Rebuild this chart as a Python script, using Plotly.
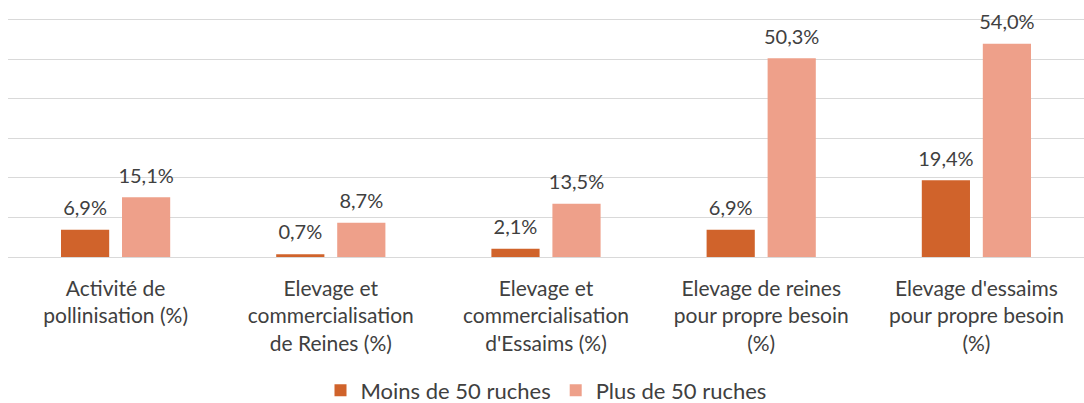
import plotly.graph_objects as go

categories = [
    "Activité de<br>pollinisation (%)",
    "Elevage et<br>commercialisation<br>de Reines (%)",
    "Elevage et<br>commercialisation<br>d'Essaims (%)",
    "Elevage de reines<br>pour propre besoin<br>(%)",
    "Elevage d'essaims<br>pour propre besoin<br>(%)",
]
moins_50 = [6.9, 0.7, 2.1, 6.9, 19.4]
plus_50 = [15.1, 8.7, 13.5, 50.3, 54.0]

font_family = "Lato, 'Open Sans', sans-serif"
text_color = "#404040"
series = [
    ("Moins de 50 ruches", moins_50, "#D0632B"),
    ("Plus de 50 ruches", plus_50, "#EEA08A"),
]

fig = go.Figure()
for name, values, color in series:
    fig.add_trace(go.Bar(
        name=name, x=categories, y=values, offsetgroup=name,
        marker=dict(color=color, line=dict(width=0)),
    ))
# value labels: invisible markers push the text a little above each bar
for name, values, color in series:
    fig.add_trace(go.Scatter(
        x=categories, y=values, offsetgroup=name,
        mode="markers+text", text=[f"{v:.1f}%".replace(".", ",") for v in values],
        textposition="top center",
        textfont=dict(size=20, color=text_color, family=font_family),
        marker=dict(size=14, opacity=0), showlegend=False, hoverinfo="skip",
        cliponaxis=False,
    ))

fig.update_layout(
    width=1084, height=403,
    margin=dict(l=8, r=0, t=18, b=146, autoexpand=False),
    paper_bgcolor="white", plot_bgcolor="white",
    barmode="group", bargap=0.433, bargroupgap=0.21,
    scattermode="group", scattergap=0.433,
    font=dict(family=font_family, size=21, color=text_color),
    showlegend=True,
    legend=dict(
        orientation="h", x=0.5, xanchor="center", y=-0.47, yanchor="top",
        font=dict(size=22, color=text_color), itemwidth=30,
        traceorder="normal",
    ),
)
fig.update_yaxes(
    range=[0, 60.5], tickvals=[0, 10, 20, 30, 40, 50, 60], showticklabels=False,
    showgrid=True, gridcolor="#D9D9D9", gridwidth=1,
    zeroline=True, zerolinecolor="#D9D9D9", zerolinewidth=1,
    showline=False, automargin=False,
)
fig.update_xaxes(
    showline=False, ticks="", tickfont=dict(size=21, color=text_color),
    automargin=False, ticklabelstandoff=17,
)

fig.write_html("out.html")
